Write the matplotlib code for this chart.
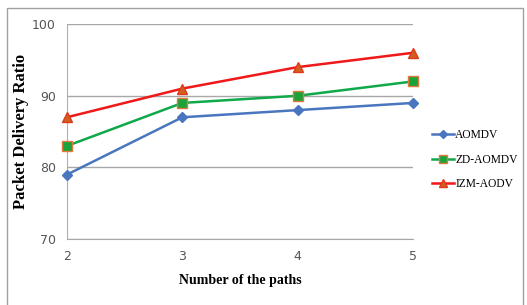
import matplotlib.pyplot as plt
from matplotlib.patches import Rectangle

# data
paths = [2, 3, 4, 5]
aomdv = [79, 87, 88, 89]
zd_aomdv = [83, 89, 90, 92]
izm_aodv = [87, 91, 94, 96]
yticks = [70, 80, 90, 100]

fig = plt.figure(figsize=(5.27, 3.05), dpi=100)
ax = fig.add_axes([0.127, 0.216, 0.657, 0.705])

# outer frame like the office chart border
fig.patches.append(Rectangle((0.013, -0.01), 0.98, 0.985, transform=fig.transFigure,
                             fill=False, edgecolor='#a0a0a0', linewidth=1.0))

ax.plot(paths, aomdv, color='#4a76c0', linewidth=1.8, marker='D', markersize=5,
        markerfacecolor='#4a76c0', markeredgecolor='#4a76c0', label='AOMDV', clip_on=False, zorder=3)
ax.plot(paths, zd_aomdv, color='#0fa84a', linewidth=1.8, marker='s', markersize=7,
        markerfacecolor='#1aa33a', markeredgecolor='#e07a3a', label='ZD-AOMDV', clip_on=False, zorder=3)
ax.plot(paths, izm_aodv, color='#f01818', linewidth=1.8, marker='^', markersize=7,
        markerfacecolor='#d06020', markeredgecolor='#e03a1a', label='IZM-AODV', clip_on=False, zorder=3)

ax.set_xlim(2, 5)
ax.set_ylim(70, 100)
ax.set_xticks(paths)
ax.set_yticks(yticks)
ax.yaxis.grid(True, color='#a8a8a8', linewidth=1.0)
ax.set_axisbelow(True)
for s in ['top', 'right']:
    ax.spines[s].set_visible(False)
ax.spines['left'].set_color('#b0b0b0')
ax.spines['bottom'].set_color('#a8a8a8')
ax.tick_params(length=0, labelsize=9, labelcolor='#555555', pad=8)

ax.set_xlabel('Number of the paths', fontfamily='Liberation Serif', fontweight='bold',
              fontsize=10, labelpad=8)
ax.set_ylabel('Packet Delivery Ratio', fontfamily='Liberation Serif', fontweight='bold',
              fontsize=12, labelpad=2)

leg = ax.legend(loc='center left', bbox_to_anchor=(1.055, 0.37), frameon=False,
                borderaxespad=0, borderpad=0,
                prop={'family': 'Liberation Serif', 'size': 8.3}, handlelength=1.9,
                handletextpad=0.1, labelspacing=1.1, markerscale=0.75)

fig.savefig('out.png', dpi=100)
